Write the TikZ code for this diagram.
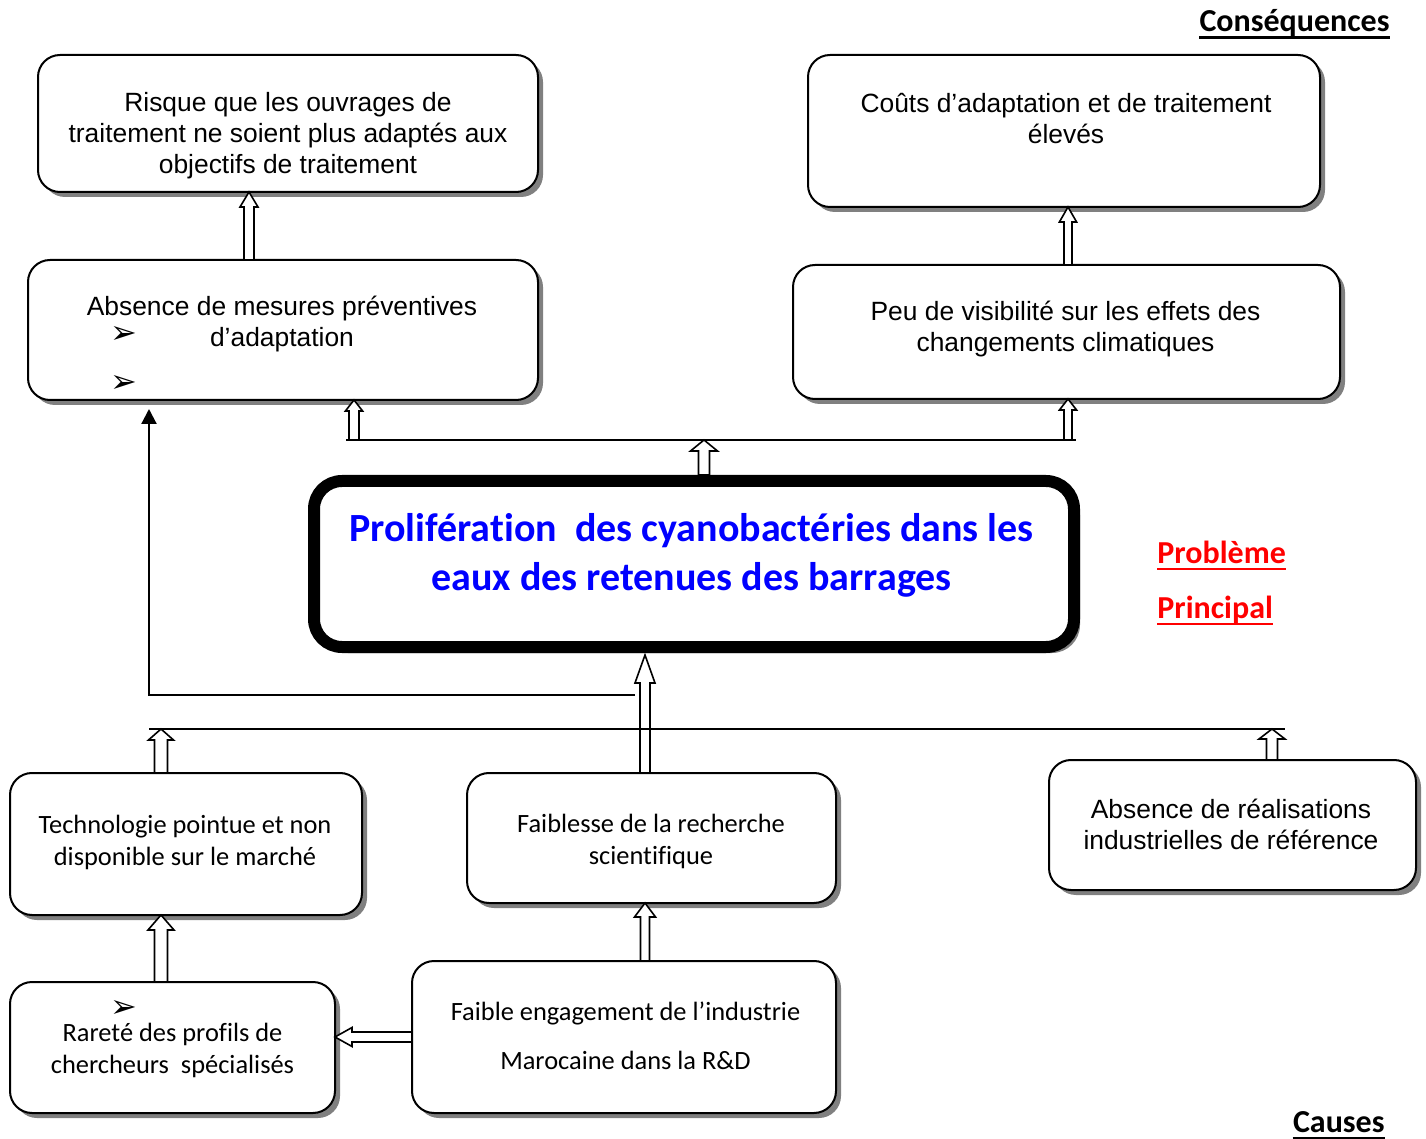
\documentclass[tikz,border=0pt]{standalone}
\usepackage{fontspec}
\usetikzlibrary{shadows,arrows.meta,calc}
\newfontfamily\arialf{Liberation Sans}
\newfontfamily\calf[Ligatures=NoCommon]{Carlito}
\newfontfamily\djv{DejaVu Sans}
\definecolor{tblue}{RGB}{0,0,255}
\definecolor{tred}{RGB}{255,0,0}
\definecolor{shadowgray}{RGB}{128,128,128}
% vertical hollow block arrow: from, to, shaft half width, head half width, head length
\newcommand{\blkup}[5]{\draw[blk] let \p1=#1, \p2=#2 in
  (\x1-#3,\y1) -- (\x1-#3,\y2-#5) -- (\x1-#4,\y2-#5) -- (\x1,\y2) --
  (\x1+#4,\y2-#5) -- (\x1+#3,\y2-#5) -- (\x1+#3,\y1) -- cycle;}
% horizontal (leftwards) hollow block arrow
\newcommand{\blkleft}[5]{\draw[blk] let \p1=#1, \p2=#2 in
  (\x1,\y1+#3) -- (\x2+#5,\y1+#3) -- (\x2+#5,\y1+#4) -- (\x2,\y1) --
  (\x2+#5,\y1-#4) -- (\x2+#5,\y1-#3) -- (\x1,\y1-#3) -- cycle;}
% underline under a node
\newcommand{\ulnode}[2]{\draw[line width=1.1pt,#2] ([yshift=-2.8pt]#1.base west) -- ([yshift=-2.8pt]#1.base east);}
\begin{document}
\begin{tikzpicture}[x=0.5pt,y=-0.5pt,
  box/.style={draw, line width=1pt, rounded corners=11pt, fill=white,
    anchor=north west, inner sep=0pt, outer sep=0pt,
    drop shadow={shadow xshift=2.5pt, shadow yshift=-2.5pt, fill=shadowgray, opacity=1}},
  mainbox/.style={draw, line width=6pt, rounded corners=14pt, fill=white,
    anchor=north west, inner sep=0pt, outer sep=0pt,
    drop shadow={shadow xshift=3pt, shadow yshift=-3pt, fill=shadowgray, opacity=1}},
  blk/.style={draw, line width=0.8pt, fill=white, line join=miter},
  atx/.style={font=\arialf\fontsize{13.2pt}{15.5pt}\selectfont, align=center, inner sep=0pt},
  ctx/.style={font=\calf\fontsize{13.2pt}{16pt}\selectfont, align=center, inner sep=0pt},
  ttl/.style={font=\calf\bfseries\fontsize{20pt}{24.5pt}\selectfont, text=tblue, align=center, inner sep=0pt},
  hdr/.style={font=\calf\bfseries\fontsize{16pt}{19pt}\selectfont, inner sep=0pt},
  bul/.style={font=\djv\fontsize{16pt}{18pt}\selectfont, inner sep=0pt},
  thin/.style={line width=1pt}
]
\useasboundingbox (0,0) rectangle (1426,1139);
\fill[white] (0,0) rectangle (1426,1139);

% x / y reference coordinates
\coordinate (a161) at (161,0);
\coordinate (a249) at (249,0);
\coordinate (a354) at (354,0);
\coordinate (a645) at (645,0);
\coordinate (a704) at (704,0);
\coordinate (a1068) at (1068,0);
\coordinate (a1272) at (1272,0);
\coordinate (a1037) at (0,1037);
\coordinate (barL) at (346,440);
\coordinate (barR) at (1076,440);
\coordinate (bar2L) at (149,729);
\coordinate (bar2R) at (1285,729);
\coordinate (jR) at (635,695);
\coordinate (blkTip) at (149,409);

% headers
\node[hdr, anchor=base east] (hcons) at (1390,32) {Conséquences};
\node[hdr, anchor=base east] (hcaus) at (1385,1132) {Causes};
\node[hdr, text=tred, anchor=base west] (hprob) at (1157,563) {Problème};
\node[hdr, text=tred, anchor=base west] (hprin) at (1157,618) {Principal};
\ulnode{hcons}{black}
\ulnode{hcaus}{black}
\ulnode{hprob}{tred}
\ulnode{hprin}{tred}

% boxes
\node[box, minimum width=250pt, minimum height=68.5pt] (b1) at (38,55) {};
\node[box, minimum width=256pt, minimum height=76pt] (b2) at (808,55) {};
\node[box, minimum width=255pt, minimum height=70pt] (b3) at (28,260) {};
\node[box, minimum width=273.5pt, minimum height=67pt] (b4) at (793,265) {};
\node[box, minimum width=176pt, minimum height=71pt] (b5) at (10,773) {};
\node[box, minimum width=184.5pt, minimum height=65pt] (b6) at (467,773) {};
\node[box, minimum width=183.5pt, minimum height=65pt] (b7) at (1049,760) {};
\node[box, minimum width=162.5pt, minimum height=65.5pt] (b8) at (10,982) {};
\node[box, minimum width=212pt, minimum height=76pt] (b9) at (412,961) {};
\node[mainbox, minimum width=380pt, minimum height=83pt] (main) at (314,481) {};

% texts
\node[atx] (t1) at (288,136) {Risque que les ouvrages de\\traitement ne soient plus adaptés aux\\objectifs de traitement};
\node[atx] (t2) at (1066,119) {Coûts d’adaptation et de traitement\\élevés};
\node[atx] (t3) at (282,324.5) {Absence de mesures préventives\\d’adaptation};
\node[bul] (u1) at (124,335) {➢};
\node[bul] (u2) at (124,384) {➢};
\node[atx] (t4) at (1065.5,329.5) {Peu de visibilité sur les effets des\\changements climatiques};
\node[ctx] (t5) at (185,842) {Technologie pointue et non\\disponible sur le marché};
\node[ctx] (t6) at (651,841) {Faiblesse de la recherche\\scientifique};
\node[atx] (t7) at (1231,824) {Absence de réalisations\\industrielles de référence};
\node[ctx] (t8) at (172.5,1050) {Rareté des profils de\\chercheurs\ \ spécialisés};
\node[bul] (u3) at (124,1009) {➢};
\node[ctx] (t9) at (625.5,1036) {Faible engagement de l’industrie\\[8.5pt]Marocaine dans la R\&D};
\node[ttl] (tm) at (691.5,555) {Prolifération\ \ des cyanobactéries dans les\\eaux des retenues des barrages};

% lines
\draw[thin] (barL) -- (barR);
\draw[line width=1.1pt, -{Triangle[length=7.5pt,width=7.5pt]}] (jR) -| (blkTip);

% block arrows
\blkup{(b3.north -| a249)}{(b1.south -| a249)}{2.5pt}{4.5pt}{7.5pt}
\blkup{(b4.north -| a1068)}{(b2.south -| a1068)}{2pt}{4.3pt}{7.5pt}
\blkup{(barL -| a354)}{(b3.south -| a354)}{2.5pt}{4.3pt}{5.5pt}
\blkup{(barL -| a1068)}{(b4.south -| a1068)}{2pt}{4.3pt}{5.5pt}
\blkup{($(main.north -| a704)+(0,-6)$)}{(barL -| a704)}{2.75pt}{6.75pt}{5.5pt}
\blkup{(b6.north -| a645)}{($(main.south -| a645)+(0,8)$)}{2.5pt}{5pt}{14pt}
\draw[thin] (bar2L) -- (bar2R);
\blkup{(b5.north -| a161)}{(bar2L -| a161)}{3.25pt}{6.25pt}{5.5pt}
\blkup{(b7.north -| a1272)}{(bar2L -| a1272)}{2.75pt}{6.5pt}{5pt}
\blkup{(b9.north -| a645)}{(b6.south -| a645)}{2.25pt}{5.25pt}{7pt}
\blkup{(b8.north -| a161)}{(b5.south -| a161)}{3.25pt}{6.5pt}{7.5pt}
\blkleft{(b9.west |- a1037)}{(b8.east |- a1037)}{2.5pt}{4.75pt}{8.5pt}
\end{tikzpicture}
\end{document}
